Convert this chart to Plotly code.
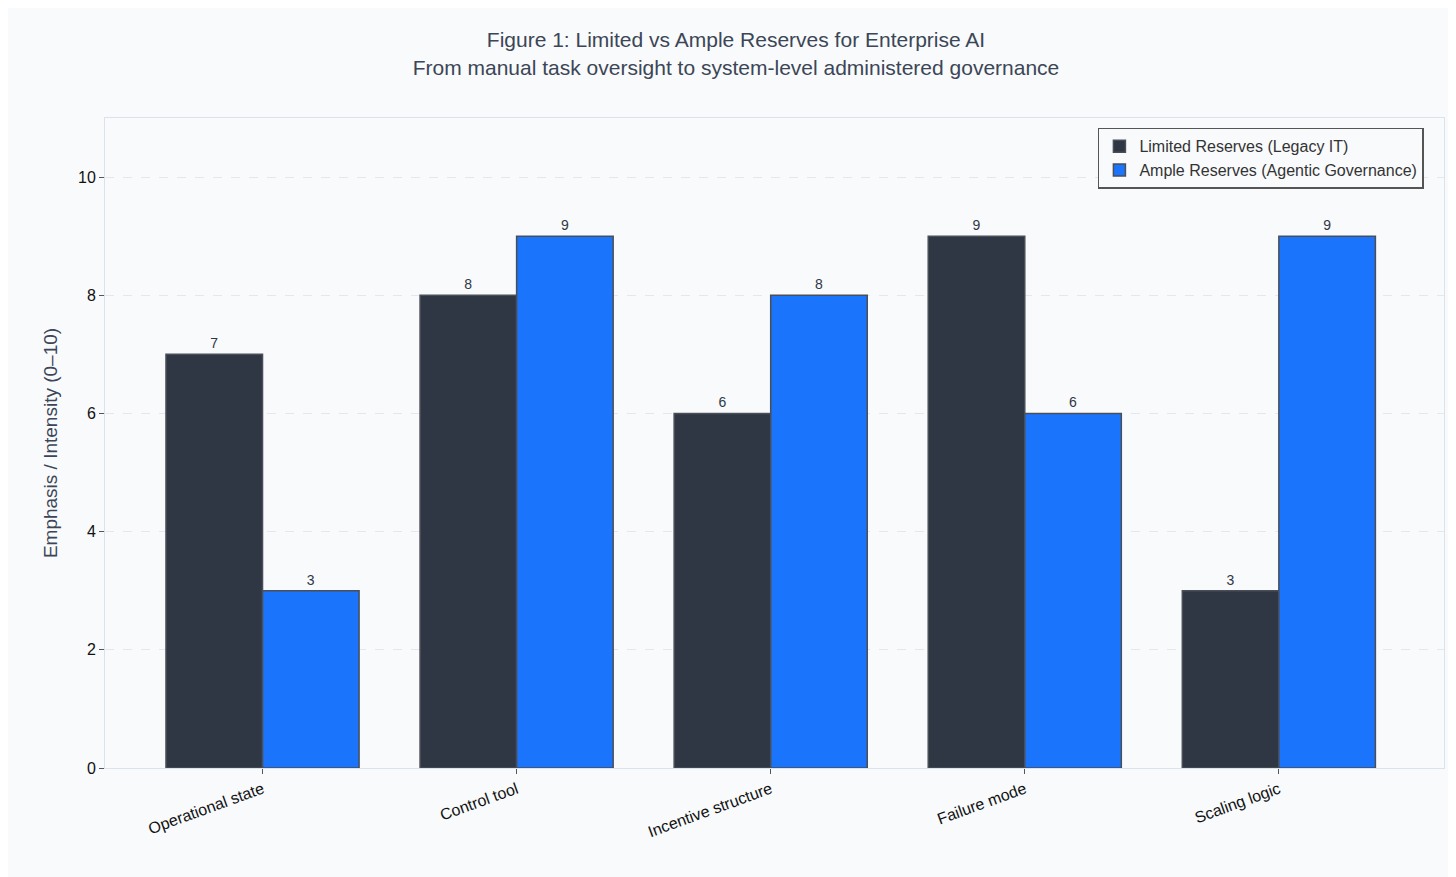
import plotly.graph_objects as go

categories = ['Operational state', 'Control tool', 'Incentive structure', 'Failure mode', 'Scaling logic']
limited = [7, 8, 6, 9, 3]
ample = [3, 9, 8, 6, 9]

fig = go.Figure()
fig.add_trace(go.Bar(x=categories, y=limited, name='Limited Reserves (Legacy IT)',
                     marker=dict(color='#2f3744', line=dict(color='#4a4f57', width=1.5)),
                     text=limited, textposition='outside',
                     textfont=dict(size=14, color='#2f3744')))
fig.add_trace(go.Bar(x=categories, y=ample, name='Ample Reserves (Agentic Governance)',
                     marker=dict(color='#1a75fc', line=dict(color='#4a4f57', width=1.5)),
                     text=ample, textposition='outside',
                     textfont=dict(size=14, color='#2f3744')))

fig.update_layout(
    width=1456, height=877,
    barmode='group', bargap=0.24, bargroupgap=0,
    paper_bgcolor='#f8fafc', plot_bgcolor='#f8fafc',
    font=dict(family='Liberation Sans, Arial', size=15, color='#111'),
    title=dict(text='Figure 1: Limited vs Ample Reserves for Enterprise AI<br>'
                    'From manual task oversight to system-level administered governance',
               x=0.5, xanchor='center', y=0.955, yanchor='top',
               font=dict(size=21, color='#3c4656')),
    margin=dict(l=97, r=20, t=110, b=117),
    legend=dict(x=0.985, y=0.985, xanchor='right', yanchor='top',
                bgcolor='#f8fafc', bordercolor='#555', borderwidth=1.5,
                font=dict(size=16, color='#333')),
    xaxis=dict(range=[-0.62, 4.65], tickangle=-20, ticks='outside', ticklen=5,
               tickcolor='#555', showline=True, linecolor='#dbe2ec', mirror=True,
               tickfont=dict(size=16)),
    yaxis=dict(range=[0, 11], tickvals=[0, 2, 4, 6, 8, 10], ticks='outside', ticklen=5,
               tickcolor='#555', showline=True, linecolor='#dbe2ec', mirror=True,
               gridcolor='#e3e7ee', griddash='dash', zeroline=False,
               title=dict(text='Emphasis / Intensity (0–10)', font=dict(size=19, color='#3c4656')),
               tickfont=dict(size=16)),
    uniformtext=dict(mode=False),
)

fig.write_html('out.html')
